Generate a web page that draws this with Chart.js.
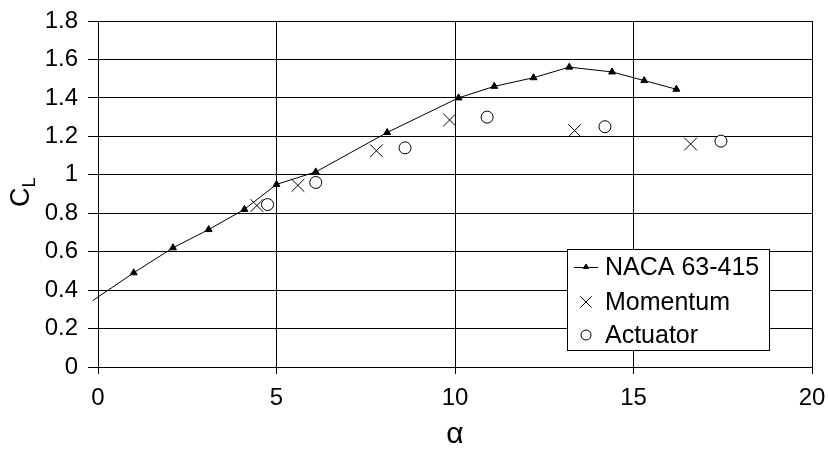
<!DOCTYPE html>
<html lang="en">
<head>
  <meta charset="UTF-8" />
  <title>CL vs alpha</title>
  <style>
    body { margin: 0; background: #fff; }
    #wrap { width: 828px; height: 450px; }
  </style>
</head>
<body>
  <div id="wrap"><canvas id="chart" width="828" height="450"></canvas></div>

  <script src="https://cdn.jsdelivr.net/npm/chart.js"></script>
  <script>
    // NACA 63-415 polar (line with triangles)
    const nacaAlpha = [-0.15, 1.0, 2.1, 3.1, 4.1, 5.0, 6.1, 8.1, 10.1, 11.1, 12.2, 13.2, 14.4, 15.3, 16.2];
    const nacaCl    = [0.345, 0.49, 0.62, 0.715, 0.82, 0.95, 1.015, 1.22, 1.40, 1.46, 1.505, 1.56, 1.535, 1.49, 1.445];
    // momentum method
    const momAlpha = [4.45, 5.6, 7.8, 9.85, 13.35, 16.6];
    const momCl    = [0.84, 0.945, 1.125, 1.285, 1.23, 1.16];
    // actuator method
    const actAlpha = [4.75, 6.1, 8.6, 10.9, 14.2, 17.45];
    const actCl    = [0.845, 0.96, 1.14, 1.30, 1.25, 1.175];

    const seriesNames = ['NACA 63-415', 'Momentum', 'Actuator'];
    const xRange = [0, 20, 5];     // min, max, step
    const yRange = [0, 1.8, 0.2];

    const FONT = '"Liberation Sans", Arial, sans-serif';

    function pts(xs, ys) { return xs.map((x, i) => ({ x: x, y: ys[i] })); }

    // legend box drawn inside the plot, like the original
    const boxLegend = {
      id: 'boxLegend',
      afterDraw(chart) {
        const ctx = chart.ctx;
        const bx = 567, by = 249, bw = 202, bh = 101;
        const rows = [267, 302, 335];
        ctx.save();
        ctx.fillStyle = '#fff';
        ctx.fillRect(bx, by, bw, bh);
        ctx.strokeStyle = '#000';
        ctx.lineWidth = 1;
        ctx.strokeRect(bx + 0.5, by + 0.5, bw, bh);
        chart.data.datasets.forEach((ds, i) => {
          const cy = rows[i];
          ctx.strokeStyle = '#000';
          ctx.lineWidth = 1;
          if (ds.showLine) {
            ctx.beginPath();
            ctx.moveTo(574, cy + 0.5);
            ctx.lineTo(598, cy + 0.5);
            ctx.stroke();
          }
          ctx.fillStyle = ds.pointBackgroundColor;
          Chart.helpers.drawPoint(ctx, {
            pointStyle: ds.pointStyle,
            radius: ds.legendRadius,
            borderWidth: 1,
            rotation: 0
          }, 586, cy);
          ctx.fillStyle = '#000';
          ctx.font = '25px ' + FONT;
          ctx.textAlign = 'left';
          ctx.textBaseline = 'middle';
          ctx.fillText(ds.label, 605, cy + 1);
        });
        ctx.restore();
      }
    };

    // y axis title C with subscript L, rotated
    const yTitle = {
      id: 'yTitle',
      afterDraw(chart) {
        const ctx = chart.ctx;
        ctx.save();
        ctx.translate(29, 207);
        ctx.rotate(-Math.PI / 2);
        ctx.fillStyle = '#000';
        ctx.textAlign = 'left';
        ctx.textBaseline = 'alphabetic';
        ctx.font = '27px ' + FONT;
        ctx.fillText('C', 0, 0);
        const w = ctx.measureText('C').width;
        ctx.font = '18px ' + FONT;
        ctx.fillText('L', w, 6);
        ctx.restore();
      }
    };

    const ctx = document.getElementById('chart').getContext('2d');
    new Chart(ctx, {
      type: 'scatter',
      data: {
        datasets: [
          {
            label: seriesNames[0],
            data: pts(nacaAlpha, nacaCl),
            showLine: true,
            tension: 0,
            borderColor: '#000',
            borderWidth: 1,
            pointStyle: 'triangle',
            pointRadius: nacaAlpha.map((a, i) => i === 0 ? 0 : 4),
            pointBackgroundColor: '#000',
            pointBorderColor: '#000',
            pointBorderWidth: 1,
            legendRadius: 3,
            clip: false
          },
          {
            label: seriesNames[1],
            data: pts(momAlpha, momCl),
            showLine: false,
            pointStyle: 'crossRot',
            pointRadius: 9,
            pointBorderWidth: 1,
            pointBorderColor: '#000',
            pointBackgroundColor: '#000',
            borderColor: '#000',
            legendRadius: 8
          },
          {
            label: seriesNames[2],
            data: pts(actAlpha, actCl),
            showLine: false,
            pointStyle: 'circle',
            pointRadius: 6,
            pointBorderWidth: 1,
            pointBorderColor: '#000',
            pointBackgroundColor: '#fff',
            borderColor: '#000',
            legendRadius: 5
          }
        ]
      },
      options: {
        responsive: false,
        animation: false,
        layout: { padding: { left: 0, right: 16, top: 21, bottom: 0 } },
        plugins: {
          legend: { display: false },
          tooltip: { enabled: false }
        },
        scales: {
          x: {
            type: 'linear',
            min: xRange[0], max: xRange[1],
            ticks: { stepSize: xRange[2], color: '#000', font: { family: FONT, size: 24 }, padding: 10, maxRotation: 0 },
            grid: { color: '#000', lineWidth: 1, tickLength: 7, tickColor: '#000' },
            border: { color: '#000', width: 1 },
            title: { display: true, text: 'α', color: '#000', font: { family: FONT, size: 30, lineHeight: 1 }, padding: 0 },
            afterFit(s) { s.height = 83; s.paddingLeft = 0; s.paddingRight = 0; }
          },
          y: {
            type: 'linear',
            min: yRange[0], max: yRange[1],
            ticks: {
              stepSize: yRange[2], color: '#000', font: { family: FONT, size: 24 }, padding: 10,
              callback: v => String(Number(v.toFixed(1)))
            },
            grid: { color: '#000', lineWidth: 1, tickLength: 10, tickColor: '#000' },
            border: { color: '#000', width: 1 },
            afterFit(s) { s.width = 98; s.paddingTop = 0; s.paddingBottom = 0; }
          }
        }
      },
      plugins: [boxLegend, yTitle]
    });
  </script>
</body>
</html>
